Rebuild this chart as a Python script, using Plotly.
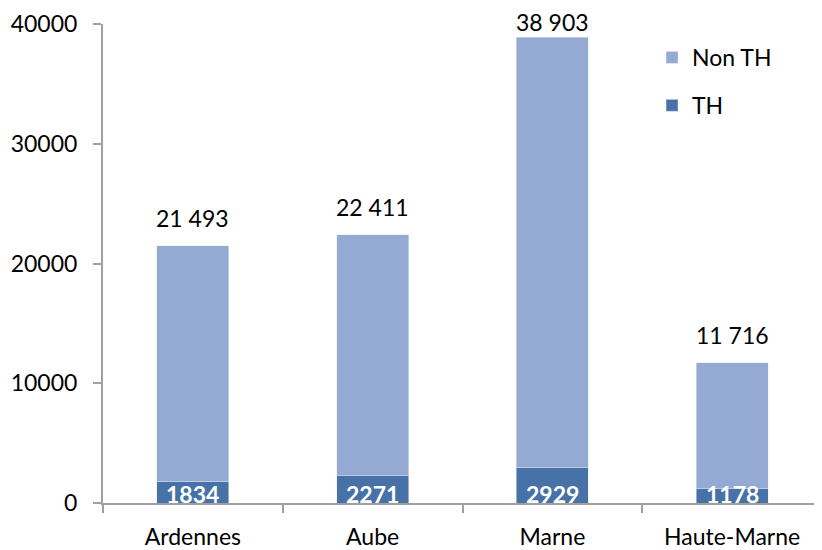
import plotly.graph_objects as go

categories = ["Ardennes", "Aube", "Marne", "Haute-Marne"]
th_values = [1834, 2271, 2929, 1178]
total_values = [21493, 22411, 38903, 11716]
non_th_values = [t - h for t, h in zip(total_values, th_values)]
total_labels = ["21 493", "22 411", "38 903", "11 716"]
th_labels = ["1834", "2271", "2929", "1178"]
y_ticks = [0, 10000, 20000, 30000, 40000]

FONT = "Lato, Carlito, Calibri, sans-serif"
DARK = "#4672A8"
LIGHT = "#94AAD2"
AXIS = "#A0A0A0"
FS = 23

fig = go.Figure()
fig.add_trace(go.Bar(x=categories, y=th_values, name="TH", marker_color=DARK,
                     legendgroup="th", legendrank=2, width=0.4))
fig.add_trace(go.Bar(x=categories, y=non_th_values, name="Non TH", marker_color=LIGHT,
                     legendgroup="non", legendrank=1, width=0.4))

for c, tot, lab in zip(categories, total_values, total_labels):
    shift = 12 if tot < 36000 else -1
    fig.add_annotation(x=c, y=tot, text=lab, showarrow=False, yanchor="bottom",
                       yshift=shift, font=dict(family=FONT, size=FS, color="black"))
for c, lab in zip(categories, th_labels):
    fig.add_annotation(x=c, y=0, text="<b>" + lab + "</b>", showarrow=False,
                       yanchor="bottom", yshift=-7,
                       font=dict(family=FONT, size=FS, color="white"))

fig.update_layout(
    width=814, height=542,
    barmode="stack",
    paper_bgcolor="white", plot_bgcolor="white",
    margin=dict(l=95, r=0, t=16, b=47, autoexpand=False),
    font=dict(family=FONT, size=FS, color="black"),
    showlegend=True,
    legend=dict(x=0.7636, y=0.975, xanchor="left", yanchor="top",
                traceorder="grouped", tracegroupgap=15,
                font=dict(family=FONT, size=FS), bgcolor="rgba(0,0,0,0)"),
    xaxis=dict(showline=True, linecolor=AXIS, linewidth=2, ticks="outside",
               ticklen=8, tickcolor=AXIS, tickwidth=2, tickson="boundaries",
               showgrid=False, zeroline=False, automargin=False,
               ticklabelstandoff=12,
               tickfont=dict(family=FONT, size=FS)),
    yaxis=dict(range=[0, 40000], tickvals=y_ticks, ticktext=[str(v) for v in y_ticks],
               showline=True, linecolor=AXIS, linewidth=2, ticks="outside",
               ticklen=8, tickcolor=AXIS, tickwidth=2, showgrid=False,
               zeroline=False, ticklabelstandoff=11, automargin=False,
               tickfont=dict(family=FONT, size=FS)),
)

fig.write_html("out.html")
